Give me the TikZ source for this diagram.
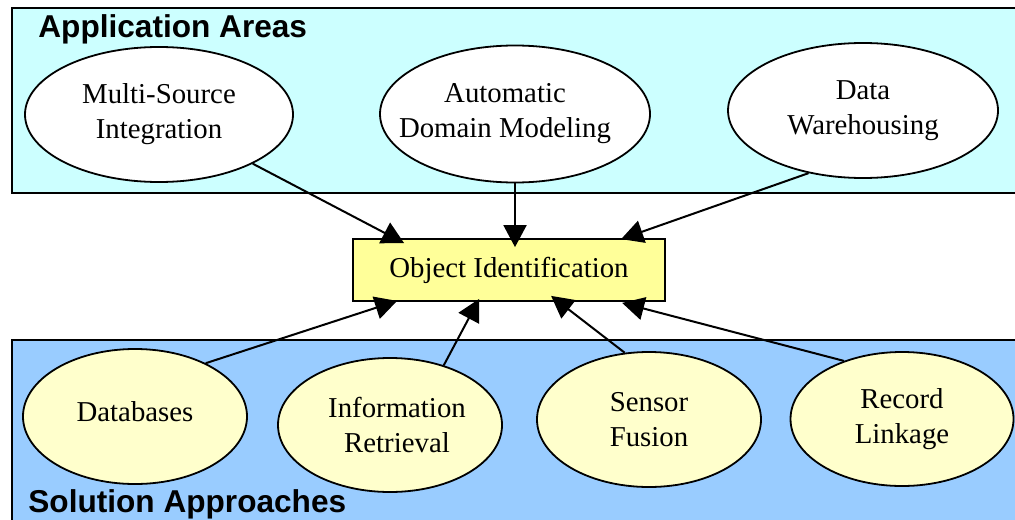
\documentclass[tikz,border=0pt]{standalone}
\usepackage{fontspec}
\setmainfont{Liberation Serif}
\newfontfamily\headfont{Liberation Sans}
\usetikzlibrary{arrows.meta,shapes.geometric,calc}
\definecolor{topbg}{HTML}{CCFFFF}
\definecolor{botbg}{HTML}{99CCFF}
\definecolor{oifill}{HTML}{FFFF99}
\definecolor{solfill}{HTML}{FFFFCC}
\begin{document}
\begin{tikzpicture}[x=0.5pt,y=-0.5pt,
  area/.style={draw=black,line width=1pt},
  app/.style={ellipse,draw=black,line width=0.9pt,fill=white,inner xsep=-20pt,inner ysep=0pt,
    align=center,font=\fontsize{14.4pt}{17.5pt}\selectfont},
  sol/.style={app,fill=solfill},
  core/.style={rectangle,draw=black,line width=0.9pt,fill=oifill,minimum width=156pt,minimum height=31pt,
    inner sep=0pt,font=\fontsize{14.4pt}{17.5pt}\selectfont},
  heading/.style={font=\headfont\bfseries\fontsize{15.8pt}{19pt}\selectfont,anchor=base west,inner sep=0pt},
  link/.style={line width=1pt,-{Triangle[length=11pt,width=11.5pt]}}]
\useasboundingbox (0,0) rectangle (1015,519);
\clip (0,0) rectangle (1015,519);
\fill[white] (0,0) rectangle (1015,519);
\draw[area,fill=topbg] (12,8) rectangle (1025,193);
\draw[area,fill=botbg] (12,340) rectangle (1025,530);
\node[heading] (apptitle) at (38,38) {Application Areas};
\node[heading] (soltitle) at (28,512) {Solution Approaches};
% application areas
\node[app,minimum width=134pt,minimum height=67.5pt] (ms) at (159,114.5) {Multi-Source\\Integration};
\node[app,minimum width=135pt,minimum height=68.5pt] (adm) at (515,114) {Automatic\hspace*{10pt}\\Domain Modeling\hspace*{10pt}};
\node[app,minimum width=135pt,minimum height=67.5pt] (dw) at (863,110.5) {Data\\Warehousing};
% core
\node[core] (oi) at (509,270) {Object Identification};
% solution approaches
\node[sol,minimum width=112pt,minimum height=67.5pt,text height=4.5pt,text depth=0pt] (db) at (135,416.5) {Databases};
\node[sol,minimum width=112pt,minimum height=67pt] (ir) at (390,425) {\hspace*{7pt}Information\\\hspace*{7pt}Retrieval};
\node[sol,minimum width=112pt,minimum height=67.5pt] (sf) at (649,419.5) {Sensor\\Fusion};
\node[sol,minimum width=111.5pt,minimum height=67pt] (rl) at (902,419) {Record\\Linkage};
% connectors
\draw[link] (ms) -- ($(oi.north west)+(52,5)$);
\draw[link] (adm.south) -- ($(adm.south |- oi.north)+(0,9)$);
\draw[link] (dw.229) -- ($(oi.north west)+(269,1)$);
\draw[link] (db.37) -- ($(oi.south west)+(45,-1)$);
\draw[link] (ir.48) -- ($(oi.south west)+(127,-3)$);
\draw[link] (sf.110) -- ($(oi.south west)+(199,-6)$);
\draw[link] (rl.135) -- ($(oi.south west)+(270,1)$);
\end{tikzpicture}
\end{document}
